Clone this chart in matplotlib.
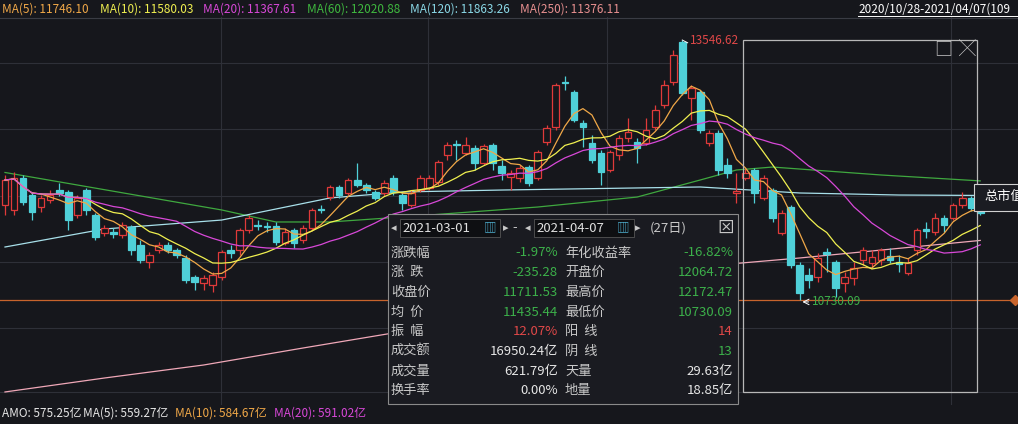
import matplotlib
matplotlib.use("Agg")
import matplotlib.pyplot as plt
import numpy as np
import pandas as pd
from matplotlib.patches import Rectangle

plt.rcParams['font.family'] = ['Noto Sans CJK SC', 'DejaVu Sans']

opens = [11760,11706,12052,11868,11738,11814,11922,11901,11652,11922,11652,11457,11467,11435,11522,11327,11143,11273,11327,11273,
         11186,10980,10915,10894,10980,11273,11273,11489,11543,11532,11532,11348,11489,11381,11511,11717,11847,11955,11890,12031,
         11976,11901,11890,12052,11868,11760,11922,11944,12009,12301,12420,12323,12377,12215,12410,12182,12063,12052,12171,12052,
         12442,12605,13092,12984,12648,12431,12323,12139,12301,12485,12442,12431,12605,12843,13092,13525,12919,12984,12431,12540,
         12193,11890,12052,12139,11836,11922,11457,11738,11110,11002,10980,11251,11143,10915,10969,11164,11132,11164,11208,11143,
         11023,11273,11500,11467,11619,11619,11760,11836,11727]
closes = [12031,12052,11792,11684,11836,11868,11890,11597,11836,11706,11413,11511,11446,11543,11273,11164,11219,11327,11273,11219,
          10948,10926,10969,11002,11251,11240,11489,11619,11532,11522,11359,11467,11348,11511,11706,11706,11955,11868,12031,11976,
          11922,11836,11998,11901,11781,11890,12052,12052,12226,12410,12410,12410,12215,12399,12215,12106,12106,12161,11998,12334,
          12594,13059,13081,12680,12605,12247,12117,12334,12485,12550,12377,12572,12789,13059,13384,12973,13027,12572,12540,12139,
          12106,11912,12106,11890,12052,11619,11673,11110,10807,10948,11186,11229,10862,10980,11077,11273,11197,11273,11164,11121,
          11132,11489,11478,11619,11543,11760,11836,11727,11673]
highs = [12085,12117,12085,11901,11868,11922,11998,11922,11868,11944,11673,11543,11511,11576,11543,11381,11251,11359,11359,11294,
         11219,11002,11002,11034,11273,11327,11511,11652,11597,11576,11576,11511,11511,11543,11727,11760,11976,11976,12052,12215,
         11998,11922,12031,12085,11901,11922,12085,12085,12247,12442,12464,12496,12410,12420,12431,12247,12139,12193,12193,12356,
         12626,13081,13157,13005,12680,12518,12356,12356,12518,12702,12485,12702,12843,13114,13439,13546.62,13059,13005,12572,12572,
         12269,12106,12161,12161,12085,11944,11706,11760,11143,11077,11240,11294,11164,11034,11143,11305,11273,11294,11294,11219,
         11186,11511,11576,11673,11652,11781,11901,11857,11749]
lows = [11652,11652,11760,11597,11684,11781,11857,11489,11619,11652,11381,11424,11402,11402,11219,11132,11077,11240,11240,11186,
        10915,10840,10840,10818,10948,11186,11219,11457,11489,11467,11327,11327,11294,11348,11489,11673,11814,11836,11868,11955,
        11890,11814,11857,11868,11706,11738,11901,11922,11976,12247,12247,12301,12139,12193,12139,12031,11922,12009,11966,12031,
        12410,12572,13005,12659,12388,12215,11976,12117,12247,12442,12215,12410,12572,12810,13059,12951,12680,12540,12399,12085,
        12052,11781,12031,11781,11814,11576,11435,11077,10730.09,10862,10926,11034,10764,10818,10894,11110,11077,11110,11132,11034,
        11002,11219,11402,11435,11467,11597,11727,11695,11652]

# long moving averages read at sample candle positions
ma60_idx = [0, 24, 30, 36, 44, 59, 70, 77, 81, 85, 97, 108]
ma60_val = [12112, 11706, 11576, 11576, 11630, 11738, 11846, 12031, 12139, 12171, 12085, 12020.88]
ma120_idx = [0, 11, 24, 36, 44, 55, 77, 88, 99, 108]
ma120_val = [11305, 11500, 11597, 11836, 11901, 11922, 11955, 11890, 11868, 11863.26]
ma250_idx = [0, 11, 22, 33, 43, 55, 70, 88, 108]
ma250_val = [9735, 9886, 10027, 10211, 10374, 10677, 11034, 11186, 11376.11]

BG = '#16171c'
UP = '#e03a3a'
DN = '#4fd0d8'

def py(y):  # pixel row -> price for layout
    return 13980 - 10.83 * y

fig = plt.figure(figsize=(10.18, 4.24), dpi=100, facecolor=BG)
ax = fig.add_axes([0, 19/424, 1, 388/424])
ax.set_facecolor(BG)
for s in ax.spines.values():
    s.set_visible(False)
ax.set_xticks([]); ax.set_yticks([])
x0, dx = 5, 9.03
ax.set_xlim(-x0/dx, (1018-x0)/dx)
ax.set_ylim(py(405), py(17))

def xp(px):
    return (px - x0) / dx

for gx in [221, 428, 607, 951]:
    ax.axvline(xp(gx), color='#2e3038', lw=0.8, zorder=0)
for gy in [63, 129, 196, 262, 328, 392]:
    ax.axhline(py(gy), color='#2e3038', lw=0.8, zorder=0)

n = len(closes)
idx = np.arange(n)
w = 0.74
for i in range(n):
    o, c, h, l = opens[i], closes[i], highs[i], lows[i]
    if c >= o:
        ax.vlines(i, l, o, color=UP, lw=0.9, zorder=3)
        ax.vlines(i, c, h, color=UP, lw=0.9, zorder=3)
        ax.add_patch(Rectangle((i - w/2, o), w, max(c - o, 8), facecolor=BG, edgecolor=UP, lw=0.9, zorder=3))
    else:
        ax.vlines(i, l, h, color=DN, lw=0.9, zorder=3)
        ax.add_patch(Rectangle((i - w/2, c), w, max(o - c, 8), facecolor=DN, edgecolor=DN, lw=0.9, zorder=3))

cs = pd.Series(closes, dtype=float)
ax.plot(idx, cs.rolling(5, min_periods=1).mean(), color='#f0a848', lw=0.9, zorder=4)
ax.plot(idx, cs.rolling(10, min_periods=1).mean(), color='#f0f050', lw=0.9, zorder=4)
ax.plot(idx, cs.rolling(20, min_periods=1).mean(), color='#d848d8', lw=0.9, zorder=4)
ax.plot(ma60_idx, ma60_val, color='#3fa83f', lw=0.9, zorder=2)
ax.plot(ma120_idx, ma120_val, color='#a8e0ea', lw=0.9, zorder=2)
ax.plot(ma250_idx, ma250_val, color='#f0a8b8', lw=0.9, zorder=2)

# low line
ax.axhline(10730.09, color='#c8642c', lw=0.9, zorder=2)
ax.plot([xp(1015)], [10730.09], marker='D', color='#c8642c', ms=5, clip_on=False)

# max / min annotations
imax = int(np.argmax(highs)); imin = int(np.argmin(lows))
ax.plot([imax, imax + 0.6], [highs[imax], highs[imax] - 30], color='white', lw=0.7, zorder=5)
ax.text(imax + 0.8, highs[imax], f'{highs[imax]:.2f}', color='#e04848', fontsize=8.5, va='center', zorder=5)
ax.annotate('', xy=(imin, lows[imin] - 20), xytext=(imin + 1.3, lows[imin] - 20),
            arrowprops=dict(arrowstyle='->', color='white', lw=0.7))
ax.text(imin + 1.4, lows[imin] - 20, f'{lows[imin]:.2f}', color='#3cb04a', fontsize=8.5, va='center', zorder=5)

# selection box
ax.add_patch(Rectangle((xp(743), py(392)), xp(977) - xp(743), py(40) - py(392), fill=False,
                       edgecolor='#b8b8b8', lw=0.9, zorder=6))
fig.text(943/1018, 1 - 49/424, '□', color='#c8c8c8', fontsize=13, ha='center', va='center')
fig.text(967/1018, 1 - 49/424, '╳', color='#c8c8c8', fontsize=12, ha='center', va='center')

# tooltip
fig.patches.append(Rectangle((974/1018, 1 - 211/424), 50/1018, 27/424, transform=fig.transFigure,
                             facecolor='#1b1c22', edgecolor='#d0d0d0', lw=0.8, zorder=7))
fig.text(984/1018, 1 - 197/424, '总市值', color='white', fontsize=9.5, va='center', zorder=8)

# info panel
fig.patches.append(Rectangle((388/1018, 1 - 404/424), 350/1018, 190/424, transform=fig.transFigure,
                             facecolor='#1a1b21', edgecolor='#8a8a8a', lw=0.8, zorder=7))
def ft(x, y, s, c='#c8c8c8', ha='left', fs=9.5):
    fig.text(x/1018, 1 - y/424, s, color=c, fontsize=fs, ha=ha, va='center', zorder=8)
for (bx, bw) in [(400, 100), (534, 100)]:
    fig.patches.append(Rectangle((bx/1018, 1 - 237/424), bw/1018, 18/424, transform=fig.transFigure,
                                 facecolor='#0e0f12', edgecolor='#555', lw=0.6, zorder=8))
ft(391, 228, '◂', fs=8); ft(402, 228, '2021-03-01', c='#e0e0e0', fs=9.5)
ft(484, 228, '▥', c='#4fb0d0', fs=9); ft(503, 228, '▸', fs=8); ft(512, 228, '-')
ft(525, 228, '◂', fs=8); ft(536, 228, '2021-04-07', c='#e0e0e0', fs=9.5)
ft(617, 228, '▥', c='#4fb0d0', fs=9); ft(635, 228, '▸', fs=8); ft(650, 228, '(27日)')
ft(717, 228, '⊠', fs=12)

GR = '#3cb04a'; RD = '#e04848'; WH = '#e6e6e6'
rows = [('涨跌幅', '-1.97%', GR, '年化收益率', '-16.82%', GR),
        ('涨  跌', '-235.28', GR, '开盘价', '12064.72', GR),
        ('收盘价', '11711.53', GR, '最高价', '12172.47', GR),
        ('均  价', '11435.44', GR, '最低价', '10730.09', GR),
        ('振  幅', '12.07%', RD, '阳  线', '14', RD),
        ('成交额', '16950.24亿', WH, '阴  线', '13', GR),
        ('成交量', '621.79亿', WH, '天量', '29.63亿', WH),
        ('换手率', '0.00%', WH, '地量', '18.85亿', WH)]
for k, (a, b, bc, c, d, dc) in enumerate(rows):
    y = 253 + k * 19.7
    ft(391, y, a); ft(558, y, b, c=bc, ha='right'); ft(565, y, c); ft(733, y, d, c=dc, ha='right')

# header
fig.add_artist(plt.Line2D([0, 1], [1 - 18/424, 1 - 18/424], color='#3a3c44', lw=0.8))
hx = 2
for s, c in [('MA(5): 11746.10', '#f0a848'), ('MA(10): 11580.03', '#f0f050'), ('MA(20): 11367.61', '#d848d8'),
             ('MA(60): 12020.88', '#3fb83f'), ('MA(120): 11863.26', '#8ad8e6'), ('MA(250): 11376.11', '#e89090')]:
    t = fig.text(hx/1018, 1 - 9/424, s, color=c, fontsize=8.5, va='center')
    hx += len(s) * 6.1 + 6
fig.text(858/1018, 1 - 9/424, '2020/10/28-2021/04/07(109', color='white', fontsize=8.5, va='center')
fig.add_artist(plt.Line2D([858/1018, 1], [1 - 16/424, 1 - 16/424], color='white', lw=0.7))

# bottom
bx = 2
for s, c in [('AMO: 575.25亿', WH), ('MA(5): 559.27亿', WH), ('MA(10): 584.67亿', '#f0a848'), ('MA(20): 591.02亿', '#d848d8')]:
    fig.text(bx/1018, 1 - 413/424, s, color=c, fontsize=8.5, va='center')
    bx += len(s) * 5.9 + 10

fig.savefig('out.png', dpi=100, facecolor=BG)
